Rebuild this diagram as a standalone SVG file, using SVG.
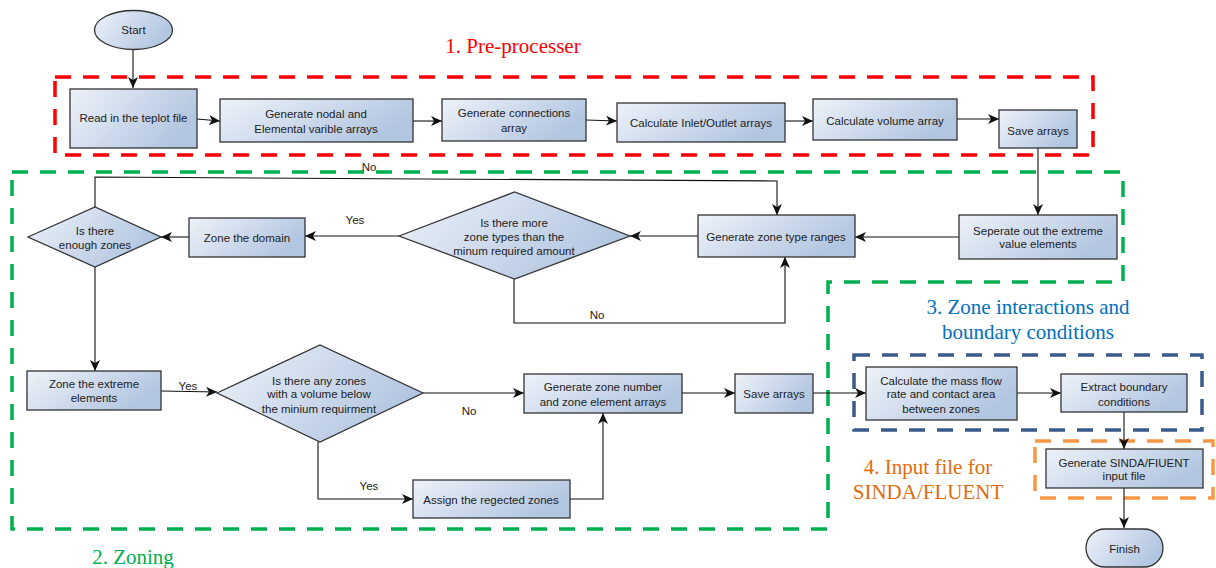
<svg xmlns="http://www.w3.org/2000/svg" width="1216" height="568" viewBox="0 0 1216 568">
<style>
.n{stroke:#333;stroke-width:1.3;fill:url(#g)}
.t{font-family:"Liberation Sans",Arial,sans-serif;font-size:11.5px;fill:#222;text-anchor:middle}
.c{fill:none;stroke:#111;stroke-width:1.1}
.a{marker-end:url(#ar)}
.big{font-family:"Liberation Serif","Times New Roman",serif;font-size:21px;text-anchor:middle}
.d{fill:none;stroke-width:3.5;stroke-dasharray:16 12}
</style>
<defs>
<linearGradient id="g" x1="0" y1="0" x2="1" y2="0.4">
<stop offset="0" stop-color="#eef2f9"/>
<stop offset="1" stop-color="#b3c6e1"/>
</linearGradient>
<marker id="ar" markerUnits="userSpaceOnUse" markerWidth="12" markerHeight="10" refX="11" refY="5" orient="auto">
<path d="M0,0 L11,5 L0,10 L3,5 Z" fill="#111"/>
</marker>
</defs>

<g id="regions">
<rect class="d" x="55" y="77" width="1038" height="78" stroke="#ff0000"/>
<path class="d" d="M12,172 H1123 V282 H828 V529 H12 Z" stroke="#00b050"/>
<rect class="d" x="854" y="355" width="348" height="75" stroke="#3a5a8a"/>
<rect class="d" x="1035" y="441" width="178" height="57" stroke="#f79646"/>
<text class="big" x="513" y="53" fill="#ff0000">1. Pre-processer</text>
<text class="big" x="133" y="564" fill="#00b050">2. Zoning</text>
<text class="big" x="1028" y="314" fill="#0070c0">3. Zone interactions and</text>
<text class="big" x="1028" y="339" fill="#0070c0">boundary conditions</text>
<text class="big" x="928" y="474" fill="#e36c0a">4. Input file for</text>
<text class="big" x="928" y="499" fill="#e36c0a">SINDA/FLUENT</text>
</g>

<g id="connectors">
<path class="c a" d="M133,49 V88"/>
<path class="c a" d="M197,119 L220,121"/>
<path class="c a" d="M413,121 H442"/>
<path class="c a" d="M586,120 L617,121"/>
<path class="c a" d="M785,121 H813"/>
<path class="c a" d="M957,119 H999"/>
<path class="c a" d="M1038,148 V215"/>
<path class="c a" d="M959,237 H855"/>
<path class="c a" d="M698,236 H630"/>
<path class="c a" d="M399,236 H305"/>
<path class="c a" d="M189,237 H161"/>
<path class="c a" d="M514,279 V323 H785 V257"/>
<path class="c a" d="M95,207 V177 L777,181 V215"/>
<path class="c a" d="M95,267 V371"/>
<path class="c a" d="M161,391 L217,392"/>
<path class="c a" d="M423,393 H524"/>
<path class="c a" d="M318,442 V499 H413"/>
<path class="c a" d="M570,499 H603 V413"/>
<path class="c a" d="M682,393 H735"/>
<path class="c a" d="M813,393 H866"/>
<path class="c a" d="M1017,393 H1061"/>
<path class="c a" d="M1124,412 V449"/>
<path class="c a" d="M1124,488 V528"/>
<text class="t" x="369" y="171">No</text>
<text class="t" x="355" y="224">Yes</text>
<text class="t" x="597" y="319">No</text>
<text class="t" x="188" y="390">Yes</text>
<text class="t" x="469" y="415">No</text>
<text class="t" x="369" y="490">Yes</text>
</g>

<g id="start"><ellipse class="n" cx="133.5" cy="30" rx="39" ry="19.5"/><text class="t" x="133.5" y="34">Start</text></g>
<g id="read"><rect class="n" x="70" y="89" width="127" height="59"/><text class="t" x="133.5" y="122">Read in the teplot file</text></g>
<g id="nodal"><rect class="n" x="220" y="99" width="193" height="43"/><text class="t" x="316" y="118">Generate nodal and</text><text class="t" x="316" y="133">Elemental varible arrays</text></g>
<g id="conn"><rect class="n" x="442" y="99" width="144" height="42"/><text class="t" x="514" y="117">Generate connections</text><text class="t" x="514" y="132">array</text></g>
<g id="inlet"><rect class="n" x="617" y="103" width="168" height="39"/><text class="t" x="701" y="127">Calculate Inlet/Outlet arrays</text></g>
<g id="volume"><rect class="n" x="813" y="99" width="144" height="41"/><text class="t" x="885" y="125">Calculate volume array</text></g>
<g id="save1"><rect class="n" x="999" y="110" width="78" height="38"/><text class="t" x="1038" y="135">Save arrays</text></g>
<g id="separate"><rect class="n" x="959" y="215" width="158" height="44"/><text class="t" x="1038" y="235">Seperate out the extreme</text><text class="t" x="1038" y="248">value elements</text></g>
<g id="ranges"><rect class="n" x="698" y="215" width="157" height="42"/><text class="t" x="776" y="241">Generate zone type ranges</text></g>
<g id="more"><polygon class="n" points="399,236 514.5,192 630,236 514.5,279"/><text class="t" x="514" y="227">Is there more</text><text class="t" x="514" y="241">zone types than the</text><text class="t" x="514" y="255">minum required amount</text></g>
<g id="domain"><rect class="n" x="189" y="218" width="116" height="39"/><text class="t" x="247" y="242">Zone the domain</text></g>
<g id="enough"><polygon class="n" points="28,237 95,207 161,237 95,267"/><text class="t" x="95" y="235">Is there</text><text class="t" x="95" y="249">enough zones</text></g>
<g id="extreme"><rect class="n" x="27" y="371" width="134" height="39"/><text class="t" x="94" y="388">Zone the extreme</text><text class="t" x="94" y="402">elements</text></g>
<g id="any"><polygon class="n" points="217,393 320,345 423,393 320,442"/><text class="t" x="319" y="385">Is there any zones</text><text class="t" x="319" y="398">with a volume below</text><text class="t" x="319" y="413">the minium requirment</text></g>
<g id="zonenum"><rect class="n" x="524" y="374" width="158" height="39"/><text class="t" x="603" y="391">Generate zone number</text><text class="t" x="603" y="406">and zone element arrays</text></g>
<g id="save2"><rect class="n" x="735" y="374" width="78" height="39"/><text class="t" x="774" y="398">Save arrays</text></g>
<g id="assign"><rect class="n" x="413" y="480" width="157" height="38"/><text class="t" x="491" y="504">Assign the regected zones</text></g>
<g id="massflow"><rect class="n" x="866" y="367" width="151" height="53"/><text class="t" x="941" y="385">Calculate the mass flow</text><text class="t" x="941" y="398">rate and contact area</text><text class="t" x="941" y="413">between zones</text></g>
<g id="boundary"><rect class="n" x="1061" y="374" width="126" height="38"/><text class="t" x="1124" y="391">Extract boundary</text><text class="t" x="1124" y="406">conditions</text></g>
<g id="sinda"><rect class="n" x="1046" y="449" width="157" height="39"/><text class="t" x="1124" y="467">Generate SINDA/FIUENT</text><text class="t" x="1124" y="480">input file</text></g>
<g id="finish"><rect class="n" x="1086" y="529" width="77" height="38" rx="19"/><text class="t" x="1124.5" y="553">Finish</text></g>
</svg>
